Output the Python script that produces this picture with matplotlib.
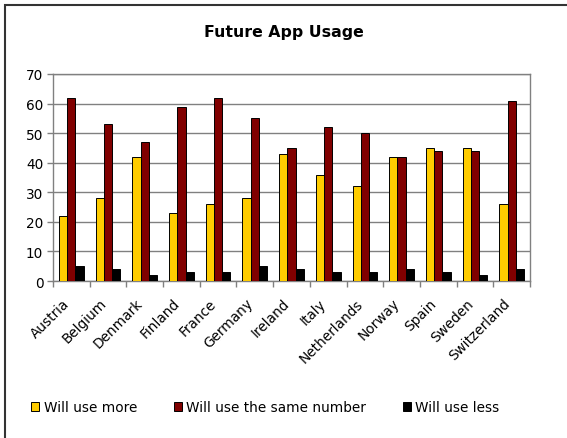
import numpy as np
import matplotlib
matplotlib.use('Agg')
import matplotlib.pyplot as plt
from matplotlib.patches import Rectangle
from matplotlib.transforms import ScaledTranslation

# Survey values per country (percent)
countries = ['Austria', 'Belgium', 'Denmark', 'Finland', 'France', 'Germany',
             'Ireland', 'Italy', 'Netherlands', 'Norway', 'Spain', 'Sweden',
             'Switzerland']
use_more = [22, 28, 42, 23, 26, 28, 43, 36, 32, 42, 45, 45, 26]
use_same = [62, 53, 47, 59, 62, 55, 45, 52, 50, 42, 44, 44, 61]
use_less = [5, 4, 2, 3, 3, 5, 4, 3, 3, 4, 3, 2, 4]

series_labels = ['Will use more', 'Will use the same number', 'Will use less']
series_colors = ['#FFCC00', '#800000', '#000000']

plt.rcParams['font.family'] = ['DejaVu Sans']
FS = 9.8

fig = plt.figure(figsize=(5.67, 4.39), dpi=100)
fig.patches.append(Rectangle((5 / 567, -0.1), 1.2, 1 - 6 / 439 + 0.1,
                             transform=fig.transFigure, fill=False,
                             edgecolor='#333333', linewidth=1.5))

ax = fig.add_axes([53 / 567, 1 - 282 / 439, 477 / 567, 207 / 439])

x = np.arange(len(countries))
w = 0.224
for i, (vals, col) in enumerate(zip([use_more, use_same, use_less], series_colors)):
    ax.bar(x + (i - 1) * w, vals, width=w, color=col, edgecolor='black',
           linewidth=0.7, label=series_labels[i], zorder=3)

ax.set_xlim(-0.5, len(countries) - 0.5)
ax.set_ylim(0, 70)
ax.set_yticks(range(0, 71, 10))
ax.yaxis.grid(True, color='#808080', linewidth=1.0, zorder=0)
ax.set_axisbelow(True)

ax.set_xticks(x)
ax.set_xticklabels(countries, rotation=45, ha='right', rotation_mode='anchor',
                   fontsize=FS)
ax.tick_params(axis='x', which='major', length=0, pad=7)
# nudge labels left/down like the original
shift = ScaledTranslation(-9 / 100, -5 / 100, fig.dpi_scale_trans)
for lbl in ax.get_xticklabels():
    lbl.set_transform(lbl.get_transform() + shift)
ax.set_xticks(np.arange(-0.5, len(countries), 1.0), minor=True)
ax.tick_params(axis='x', which='minor', length=4, color='#808080', width=1)
ax.tick_params(axis='y', length=4, color='#808080', width=1, labelsize=FS,
               pad=3)

for s in ax.spines.values():
    s.set_color('#808080')
    s.set_linewidth(1.0)

fig.text(0.5, 1 - 33 / 439, 'Future App Usage', ha='center', va='center',
         fontsize=11.3, fontweight='bold')

handles, labels = ax.get_legend_handles_labels()
fig.legend(handles, labels, ncol=3, loc='center left',
           bbox_to_anchor=(19 / 567, 1 - 408 / 439), frameon=False,
           fontsize=FS, handlelength=0.6, handleheight=0.6,
           handletextpad=0.3, columnspacing=2.7)

fig.savefig('out.png', dpi=100)
